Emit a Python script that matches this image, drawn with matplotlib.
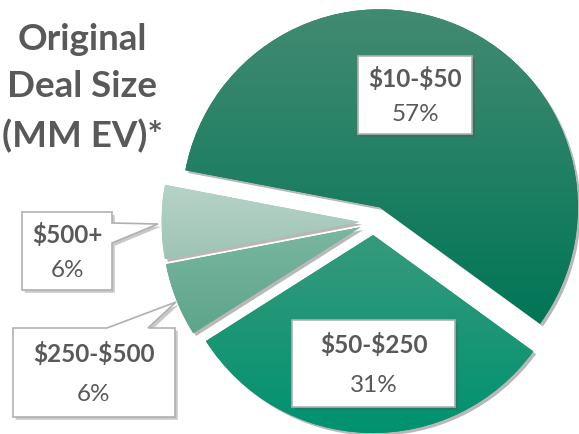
import numpy as np
import matplotlib.pyplot as plt
import matplotlib.patheffects as pe
from matplotlib.colors import to_rgb
from matplotlib.patches import Polygon

# data
labels = ["$10-$50", "$500+", "$250-$500", "$50-$250"]
shares = [57, 6, 6, 31]
pct_text = ["57%", "6%", "6%", "31%"]
title = "Original\nDeal Size\n(MM EV)*"

# styles (gradient top -> bottom for each slice)
top_colors = ["#438a72", "#b6d3c7", "#7ab7a0", "#369a7c"]
bottom_colors = ["#007656", "#9ec4b5", "#5ca58b", "#00926f"]
explode = [16, 14, 14, 13]

# label boxes: (left, top, right, bottom) in pixels
boxes = [
    (358, 56, 472, 134),
    (22, 212, 112, 290),
    (13, 328, 175, 417),
    (292, 320, 455, 407),
]
# callout outlines, including the pointers of the two small slices
callouts = [
    [(358, 56), (472, 56), (472, 134), (358, 134)],
    [(22, 212), (112, 212), (112, 223), (158, 224), (112, 243), (112, 290), (22, 290)],
    [(13, 328), (107, 328), (176, 302), (148, 328), (175, 328), (175, 417), (13, 417)],
    [(292, 320), (455, 320), (455, 407), (292, 407)],
]
text_color = "#595959"
font = "Lato"

W, H = 579, 434
fig = plt.figure(figsize=(W / 100, H / 100), dpi=100)
ax = fig.add_axes([0, 0, 1, 1])

shadow = [pe.SimplePatchShadow(offset=(2, -2), shadow_rgbFace="#000000", alpha=0.28), pe.Normal()]

wedges, _ = ax.pie(shares, radius=198, center=(373.5, 222), explode=explode,
                   startangle=36, counterclock=False,
                   wedgeprops=dict(linewidth=0, edgecolor="none"))

# vertical gradient inside every slice
for w, c0, c1 in zip(wedges, top_colors, bottom_colors):
    w.set_facecolor(c1)
    w.set_path_effects(shadow)
    v = w.get_path().vertices
    x0, x1 = v[:, 0].min(), v[:, 0].max()
    y0, y1 = v[:, 1].min(), v[:, 1].max()
    t = np.linspace(0, 1, 64)[:, None]
    grad = (1 - t) * np.array(to_rgb(c0)) + t * np.array(to_rgb(c1))
    im = ax.imshow(grad[:, None, :], extent=(x0, x1, y1, y0), origin="upper",
                   aspect="auto", interpolation="bilinear", zorder=2)
    im.set_clip_path(w)

for pts in callouts:
    p = Polygon(pts, closed=True, facecolor="white", edgecolor="#b0b0b0",
                linewidth=1.2, zorder=4,
                path_effects=[pe.SimplePatchShadow(offset=(2, -2), alpha=0.3), pe.Normal()])
    ax.add_patch(p)

for (l, t, r, b), lab, pc in zip(boxes, labels, pct_text):
    cx = (l + r) / 2
    h = b - t
    ax.text(cx, t + h * 0.29, lab, ha="center", va="center", fontsize=17.5,
            fontweight="bold", color=text_color, family=font, parse_math=False, zorder=5)
    ax.text(cx, t + h * 0.75, pc, ha="center", va="center", fontsize=17.5,
            color=text_color, family=font, zorder=5)

ax.text(82, 88, title, ha="center", va="center", fontsize=26.5, fontweight="bold",
        color=text_color, family=font, linespacing=1.55, zorder=5)

ax.set_xlim(0, W)
ax.set_ylim(H, 0)
ax.set_aspect("auto")
ax.axis("off")

fig.savefig("out.png", dpi=100)
